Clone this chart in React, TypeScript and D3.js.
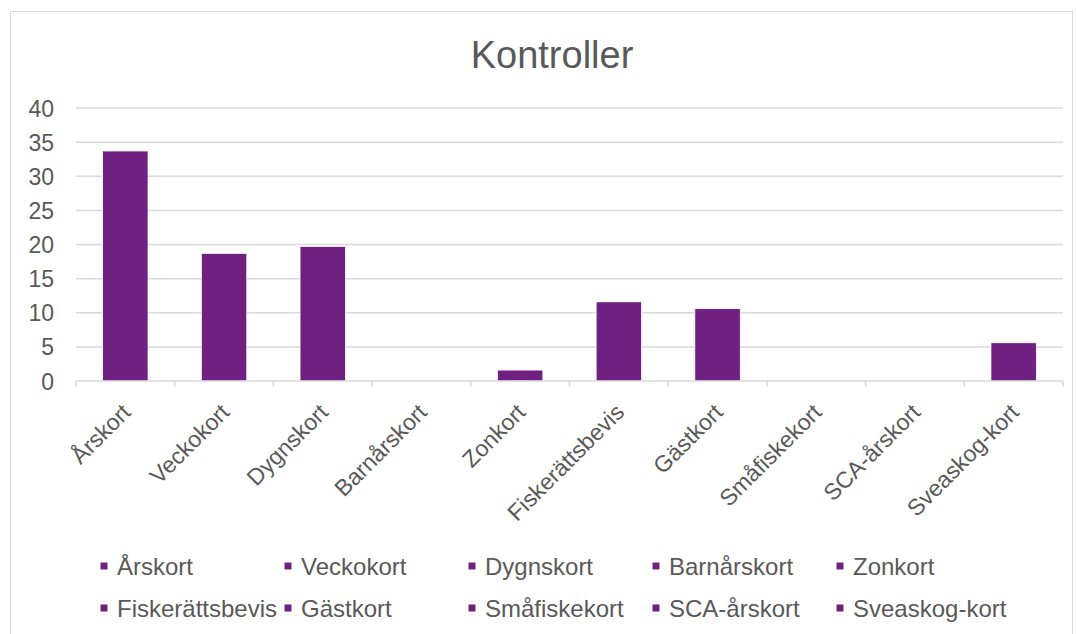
import React from "react";
import * as d3 from "d3";

const categories = ["Årskort","Veckokort","Dygnskort","Barnårskort","Zonkort","Fiskerättsbevis","Gästkort","Småfiskekort","SCA-årskort","Sveaskog-kort"];
const values = [33.7, 18.7, 19.7, 0, 1.6, 11.6, 10.6, 0, 0, 5.6];
const yTicks = [0, 5, 10, 15, 20, 25, 30, 35, 40];
const title = "Kontroller";

const W = 1077, H = 634;
const left = 76, right = 1063, top = 108, bottom = 381;
const barColor = "#6f2080";
const textColor = "#595959";
const gridColor = "#d9d9d9";
const font = "'Liberation Sans', Arial, sans-serif";

export default function App() {
  const x = d3.scaleBand<string>().domain(categories).range([left, right]).paddingInner(0.54).paddingOuter(0.27);
  const xb = d3.scaleBand<string>().domain(categories).range([left, right]);
  const y = d3.scaleLinear().domain([0, 40]).range([bottom, top]);
  const legendX = [104, 288, 472, 656, 840];
  const legendY = [566, 608];
  return (
    <svg width={W} height={H} style={{ position: "absolute", left: 0, top: 0, fontFamily: font }}>
      <rect x={0} y={0} width={W} height={H} fill="#fff" />
      <rect x={10.5} y={11.5} width={1062} height={640} fill="#fff" stroke="#d9d9d9" strokeWidth={1} />
      <text x={552} y={68} textAnchor="middle" fontSize={38} fill={textColor}>{title}</text>
      {yTicks.map(t => (
        <g key={t}>
          {t > 0 && <line x1={left} x2={right} y1={y(t)} y2={y(t)} stroke={gridColor} strokeWidth={1.5} />}
          <text x={54} y={y(t) + 8.5} textAnchor="end" fontSize={23} fill={textColor}>{t}</text>
        </g>
      ))}
      {categories.map((c, i) => (
        <rect key={c} x={x(c)} y={y(values[i])} width={x.bandwidth()} height={bottom - y(values[i])} fill={barColor} stroke="#fff" strokeWidth={0.75} />
      ))}
      <line x1={left} x2={right} y1={bottom} y2={bottom} stroke={gridColor} strokeWidth={1.5} />
      {[...categories.map(c => xb(c) as number), right].map((v, i) => (
        <line key={i} x1={v} x2={v} y1={bottom} y2={bottom + 6} stroke={gridColor} strokeWidth={1.5} />
      ))}
      {categories.map(c => {
        const cx = (xb(c) as number) + xb.bandwidth() / 2 - 5;
        const cy = 402;
        return (
          <text key={c} transform={`translate(${cx},${cy}) rotate(-45)`} textAnchor="end" fontSize={23} fill={textColor} dy="0.72em">{c}</text>
        );
      })}
      {categories.map((c, i) => {
        const lx = legendX[i % 5];
        const ly = legendY[Math.floor(i / 5)];
        return (
          <g key={c}>
            <rect x={lx - 3.5} y={ly - 3.5} width={7} height={7} fill={barColor} />
            <text x={lx + 13} y={ly + 8.5} fontSize={24} fill={textColor}>{c}</text>
          </g>
        );
      })}
    </svg>
  );
}
